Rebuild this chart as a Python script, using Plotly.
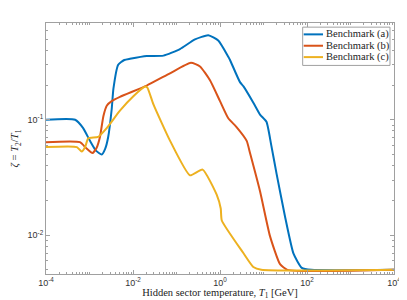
import plotly.graph_objects as go

# Hidden sector temperature T1 [GeV] and zeta = T2/T1 for each benchmark
T_a = [1e-4, 4.68e-4, 7.08e-4, 1.02e-3, 1.41e-3, 1.91e-3, 2.29e-3, 2.69e-3, 3.24e-3,
       3.55e-3, 4.57e-3, 6.31e-3, 8.51e-3, 2.07e-2, 5.01e-2, 0.120, 0.266, 0.537,
       0.912, 1.55, 1.70, 2.88, 3.47, 5.89, 8.32, 11.7, 15.1, 20.0, 30.9, 49.0,
       75.9, 126.0, 1e4]
Z_a = [0.1, 0.1, 0.085, 0.066, 0.054, 0.050, 0.056, 0.071, 0.124,
       0.186, 0.30, 0.33, 0.338, 0.357, 0.36, 0.41, 0.497, 0.54,
       0.486, 0.352, 0.33, 0.212, 0.195, 0.14, 0.111, 0.096, 0.06, 0.034, 0.0148, 0.0069,
       0.0052, 0.005, 0.005]

T_b = [1e-4, 6.03e-4, 8.32e-4, 1.17e-3, 1.45e-3, 1.74e-3, 2.09e-3, 2.51e-3, 3.24e-3,
       5.01e-3, 2.07e-2, 7.08e-2, 0.214, 0.347, 0.589, 1.0, 1.55, 2.40, 4.11,
       4.90, 8.32, 14.1, 24.0, 35.5, 1e4]
Z_b = [0.064, 0.064, 0.057, 0.0515, 0.057, 0.071, 0.108, 0.133, 0.145,
       0.158, 0.198, 0.253, 0.312, 0.29, 0.22, 0.145, 0.103, 0.0865, 0.0656,
       0.0515, 0.024, 0.0098, 0.0056, 0.005, 0.005]

T_c = [1e-4, 5.13e-4, 6.61e-4, 7.94e-4, 9.33e-4, 1.58e-3, 2.51e-3, 5.01e-3, 1.02e-2,
       1.91e-2, 2.14e-2, 2.95e-2, 7.08e-2, 0.204, 0.398, 0.839, 1.04, 1.10,
       3.44, 5.83, 8.91, 1e4]
Z_c = [0.058, 0.058, 0.053, 0.058, 0.069, 0.071, 0.085, 0.12, 0.160,
       0.194, 0.19, 0.136, 0.066, 0.033, 0.037, 0.0224, 0.017, 0.0134,
       0.0070, 0.0053, 0.005, 0.005]

names = ["Benchmark (a)", "Benchmark (b)", "Benchmark (c)"]
colors = ["#0072BD", "#D95319", "#EDB120"]

x_major = [1e-4, 1e-2, 1e0, 1e2, 1e4]
x_major_text = ["10<sup>-4</sup>", "10<sup>-2</sup>", "10<sup>0</sup>", "10<sup>2</sup>", "10<sup>4</sup>"]
y_major = [1e-2, 1e-1]
y_major_text = ["10<sup>-2</sup>", "10<sup>-1</sup>"]

x_minor = [m * 10.0 ** e for e in range(-4, 4) for m in range(1, 10) if not (m == 1 and e % 2 == 0)]
y_minor = [m * 10.0 ** e for e in range(-3, 0) for m in range(1, 10)]

fig = go.Figure()
for T, Z, n, c in zip([T_a, T_b, T_c], [Z_a, Z_b, Z_c], names, colors):
    fig.add_trace(go.Scatter(x=T, y=Z, name=n, mode="lines", showlegend=False,
                             line=dict(color=c, width=2, shape="spline", smoothing=0.5)))

serif = "Liberation Serif, DejaVu Serif, serif"
sans = "Liberation Sans, Arial, sans-serif"
grey = "#a0a0a0"
axis_common = dict(type="log", showline=True, linecolor=grey, linewidth=1,
                   mirror="ticks", ticks="inside", ticklen=4, tickcolor=grey,
                   showgrid=False, zeroline=False, automargin=False,
                   tickfont=dict(family=sans, size=9, color="#333"))

# compact legend box (paper coordinates)
lx0, lx1, ly0, ly1 = 0.7376, 0.9885, 0.831, 0.9835
row_y = [0.9547, 0.9094, 0.8641]
fig.add_shape(type="rect", xref="paper", yref="paper", x0=lx0, x1=lx1,
              y0=ly0, y1=ly1, line=dict(color=grey, width=1),
              fillcolor="white", layer="above")
for yy, n, c in zip(row_y, names, colors):
    fig.add_shape(type="line", xref="paper", yref="paper", x0=0.7405, x1=0.796,
                  y0=yy, y1=yy, line=dict(color=c, width=2), layer="above")
    fig.add_annotation(xref="paper", yref="paper", x=0.7995, y=yy, text=n,
                       showarrow=False, xanchor="left", yanchor="middle",
                       font=dict(family=serif, size=10.5, color="#222"))

# page body has an 8 px margin, so the figure is sized and padded to compensate
fig.update_layout(
    width=399, height=292,
    margin=dict(l=38, r=13, t=15, b=26),
    paper_bgcolor="white", plot_bgcolor="white",
    font=dict(family=serif, size=10, color="#222"),
    xaxis=dict(axis_common, range=[-4, 4], tickmode="array", tickvals=x_major,
               ticktext=x_major_text,
               minor=dict(tickmode="array", tickvals=x_minor, ticks="inside",
                          ticklen=2, tickcolor=grey),
               title=dict(text="Hidden sector temperature, <i>T</i><sub>1</sub> [GeV]",
                          font=dict(family=serif, size=10.5, color="#222"),
                          standoff=6)),
    yaxis=dict(axis_common, range=[-2.337, -0.161], tickmode="array", tickvals=y_major,
               ticktext=y_major_text,
               minor=dict(tickmode="array", tickvals=y_minor, ticks="inside",
                          ticklen=2, tickcolor=grey),
               title=dict(text="<i>ζ</i> = <i>T</i><sub>2</sub>/<i>T</i><sub>1</sub>",
                          font=dict(family=serif, size=10.7, color="#222"),
                          standoff=6)),
    showlegend=False,
)

fig.write_html("out.html")
